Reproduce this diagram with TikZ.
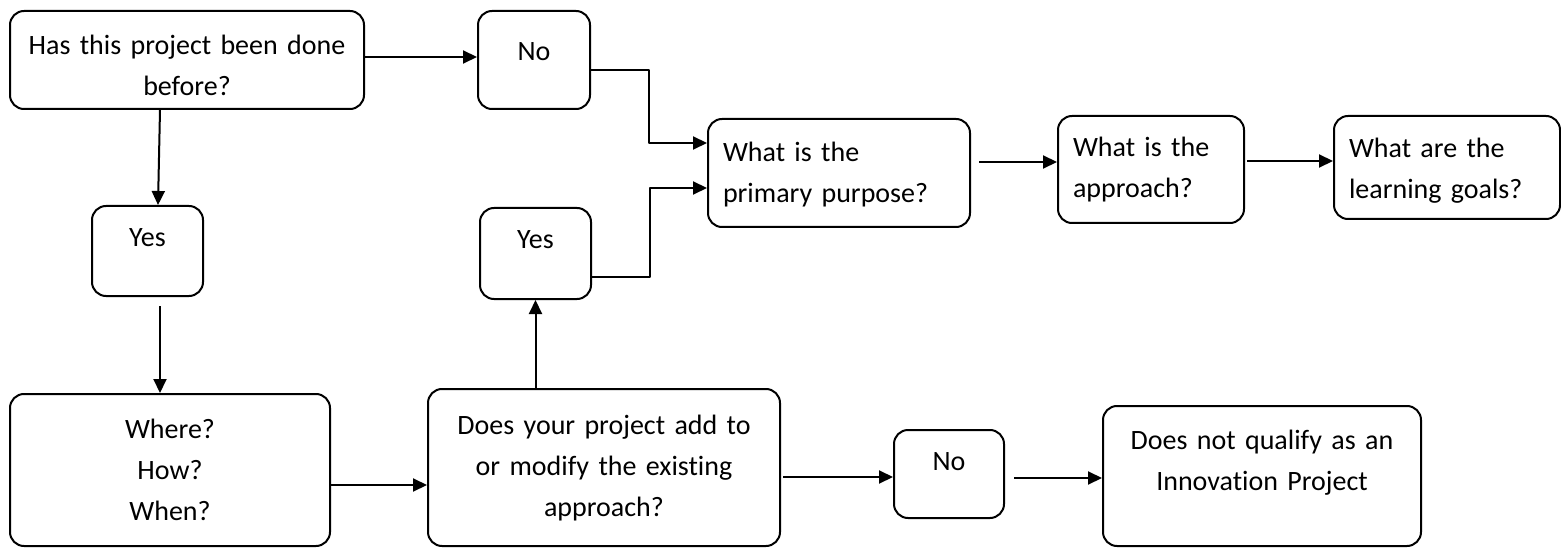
\documentclass[tikz,border=0pt]{standalone}
\usepackage{fontspec}
\setmainfont{Carlito}[Ligatures=NoCommon]
\usetikzlibrary{arrows.meta}

\begin{document}
\begin{tikzpicture}[line join=round, >={Triangle[length=14pt,width=13pt]}, x=1pt, y=1pt, line width=2pt,
    font=\fontsize{28}{41}\selectfont,
    box/.style={draw, rounded corners=14pt, anchor=north west, inner xsep=15pt, inner ysep=0pt, align=center},
    ]
    \useasboundingbox (0,0) rectangle (1561,-548);
    % top row
    \node[box, text width=324pt, text height=44pt, text depth=54pt] (done) at (9,-10) {Has this project been done\\before?};
    \node[box, text width=82pt, text height=50pt, text depth=48pt] (no1) at (477,-10) {No};
    \node[box, align=left, text width=232pt, text height=43pt, text depth=65pt] (purpose) at (707,-118) {What is the\\primary purpose?};
    \node[box, align=left, text width=156pt, text height=41pt, text depth=66pt] (approach) at (1057,-115) {What is the\\approach?};
    \node[box, align=left, text width=196pt, text height=42pt, text depth=61pt] (goals) at (1333,-115) {What are the\\learning goals?};
    % middle row
    \node[box, text width=81pt, text height=41pt, text depth=49pt] (yes1) at (91,-205) {Yes};
    \node[box, text width=81pt, text height=41pt, text depth=50pt] (yes2) at (479,-207) {Yes};
    % bottom row
    \node[box, text width=290pt, text height=44pt, text depth=108pt] (where) at (9,-393) {Where?\\How?\\When?};
    \node[box, text width=322pt, text height=45pt, text depth=112pt] (modify) at (427,-388) {Does your project add to\\or modify the existing\\approach?};
    \node[box, text width=80pt, text height=40pt, text depth=48pt] (no2) at (893,-429) {No};
    \node[box, text width=288pt, text height=43pt, text depth=97pt] (notqual) at (1102,-405) {Does not qualify as an\\Innovation Project};

    \coordinate (d1) at ([yshift=3pt]done.east);
    \draw[->] (d1) -- (d1 -| no1.west);
    \draw[->] ([xshift=-27pt]done.south) -- ([xshift=10.5pt]yes1.north);
    \coordinate (y1) at ([shift={(12.5pt,-9pt)}]yes1.south);
    \draw[->] (y1) -- (y1 |- where.north);
    \coordinate (w1) at ([yshift=-15pt]where.east);
    \draw[->] (w1) -- (w1 -| modify.west);
    \draw[->] (yes2.south |- modify.north) -- (yes2.south);
    \draw[->] ([yshift=-10pt]no1.east) -- ++(58,0) |- ([yshift=30pt]purpose.west);
    \draw[->] ([yshift=-23.5pt]yes2.east) -- ++(58,0) |- ([yshift=-15pt]purpose.west);
    \coordinate (p1) at ([shift={(8pt,11pt)}]purpose.east);
    \draw[->] (p1) -- (p1 -| approach.west);
    \coordinate (a1) at ([shift={(2pt,8.5pt)}]approach.east);
    \draw[->] (a1) -- (a1 -| goals.west);
    \coordinate (m1) at ([shift={(2pt,-9.5pt)}]modify.east);
    \draw[->] (m1) -- (m1 -| no2.west);
    \coordinate (n1) at ([shift={(9pt,-4pt)}]no2.east);
    \draw[->] (n1) -- (n1 -| notqual.west);
\end{tikzpicture}
\end{document}
